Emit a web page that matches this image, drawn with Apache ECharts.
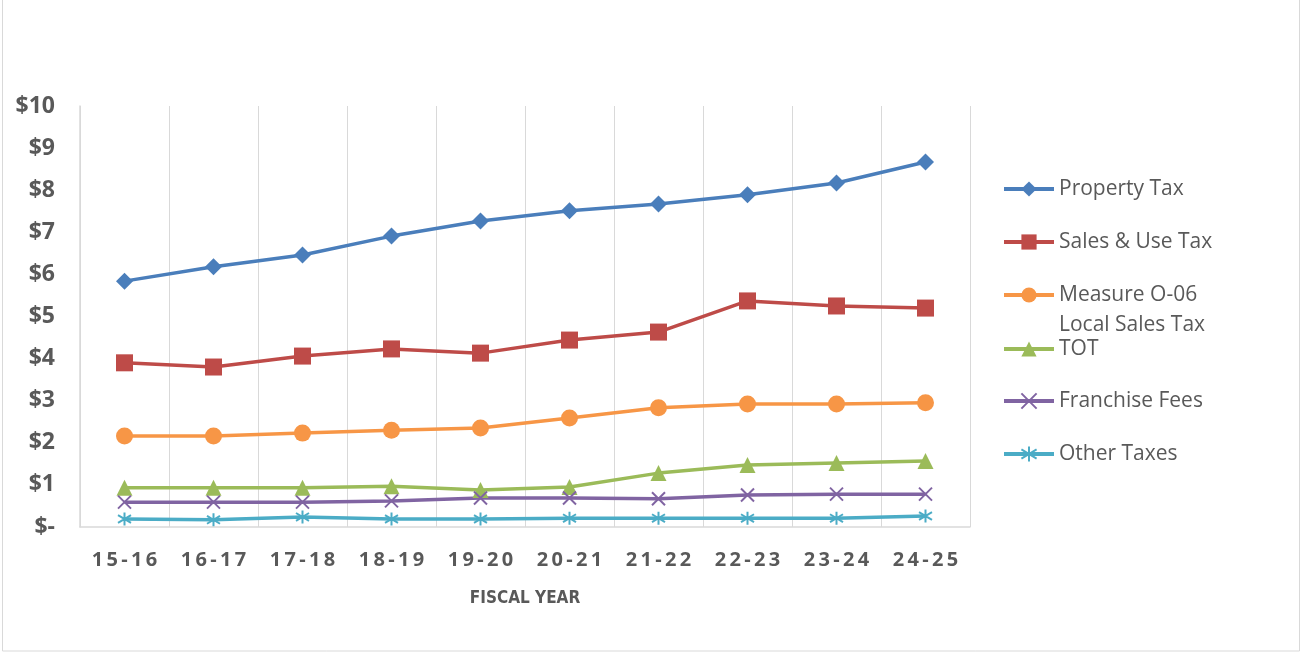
<!DOCTYPE html>
<html>
<head>
<meta charset="utf-8">
<script src="https://cdn.jsdelivr.net/npm/echarts@6/dist/echarts.min.js"></script>
<style>
  html, body { margin: 0; padding: 0; background: #fff; }
  #main { width: 1304px; height: 655px; }
</style>
</head>
<body>
<div id="main"></div>
<script>
var years = ['15-16', '16-17', '17-18', '18-19', '19-20', '20-21', '21-22', '22-23', '23-24', '24-25'];

var propertyTax = [5.84, 6.18, 6.46, 6.91, 7.27, 7.51, 7.67, 7.89, 8.17, 8.67];
var salesUseTax = [3.90, 3.80, 4.06, 4.23, 4.13, 4.44, 4.63, 5.37, 5.25, 5.20];
var measureO06 = [2.16, 2.16, 2.23, 2.30, 2.35, 2.59, 2.83, 2.92, 2.92, 2.95];
var tot = [0.93, 0.93, 0.93, 0.97, 0.88, 0.95, 1.28, 1.47, 1.52, 1.57];
var franchiseFees = [0.59, 0.59, 0.59, 0.62, 0.69, 0.69, 0.67, 0.76, 0.78, 0.78];
var otherTaxes = [0.19, 0.17, 0.24, 0.19, 0.19, 0.21, 0.21, 0.21, 0.21, 0.26];

var seriesNames = ['Property Tax', 'Sales & Use Tax', 'Measure O-06 Local Sales Tax', 'TOT', 'Franchise Fees', 'Other Taxes'];
var seriesData = [propertyTax, salesUseTax, measureO06, tot, franchiseFees, otherTaxes];
var colors = ['#4A7EBB', '#BE4B48', '#F79646', '#9BBB59', '#8064A2', '#4BACC6'];

var crossPath = 'path://M0,0L10,10M10,0L0,10';
var starPath = 'path://M5,0L5,10M0,2L10,8M10,2L0,8';
var symbols = ['diamond', 'rect', 'circle', 'triangle', crossPath, starPath];
var sizes = [17, 17, 17, 16, 13, 13];

var series = [];
var legends = [];
var legendTops = [189, 242, 295, 349, 401, 454];

for (var i = 0; i < seriesNames.length; i++) {
    var stroked = i >= 4;
    var measure = i === 2;
    series.push({
        name: seriesNames[i],
        type: 'line',
        data: seriesData[i],
        symbol: symbols[i],
        symbolSize: sizes[i],
        showAllSymbol: true,
        lineStyle: { width: 3.5, color: colors[i] },
        itemStyle: stroked
            ? { color: 'rgba(0,0,0,0)', borderColor: colors[i], borderWidth: 2 }
            : { color: colors[i], borderWidth: 0 },
        emphasis: { disabled: true }
    });

    // the multi-line legend text is centred on its symbol, so a blank first line
    // keeps "Measure O-06" level with the marker
    legends.push({
        data: [seriesNames[i]],
        left: 997,
        top: legendTops[i] - (measure ? 50 : 20),
        padding: 5,
        itemWidth: 50,
        itemHeight: 19,
        selectedMode: false,
        lineStyle: { width: 4 },
        formatter: measure ? '\nMeasure O-06\nLocal Sales Tax' : '{name}',
        textStyle: {
            color: '#595959',
            fontFamily: 'Open Sans',
            fontSize: 21,
            lineHeight: 30
        }
    });
}

var chart = echarts.init(document.getElementById('main'));

chart.setOption({
    animation: false,
    backgroundColor: '#fff',
    grid: { left: 80, right: 334, top: 106, bottom: 128 },
    legend: legends,
    graphic: [{
        type: 'rect',
        shape: { x: 2.5, y: -2, width: 1297, height: 653 },
        style: { fill: 'none', stroke: '#d9d9d9', lineWidth: 1 },
        silent: true
    }],
    xAxis: {
        type: 'category',
        data: years,
        boundaryGap: true,
        name: 'FISCAL YEAR',
        nameLocation: 'middle',
        nameGap: 63,
        nameTextStyle: {
            color: '#595959',
            fontFamily: 'DejaVu Sans Condensed',
            fontWeight: 'bold',
            fontSize: 17
        },
        axisLine: { lineStyle: { color: '#d9d9d9', width: 1.5 } },
        axisTick: { show: false },
        axisLabel: {
            margin: 23,
            color: '#595959',
            fontFamily: 'Open Sans',
            fontWeight: 'bold',
            fontSize: 20,
            formatter: function (v) { return v.split('').join('\u2009'); }
        },
        splitLine: { show: true, lineStyle: { color: '#d9d9d9', width: 1 } }
    },
    yAxis: {
        type: 'value',
        min: 0,
        max: 10,
        interval: 1,
        axisLine: { show: true, lineStyle: { color: '#d9d9d9', width: 1.5 } },
        axisTick: { show: false },
        splitLine: { show: false },
        axisLabel: {
            margin: 25,
            color: '#595959',
            fontFamily: 'Open Sans',
            fontWeight: 'bold',
            fontSize: 23,
            formatter: function (v) { return v === 0 ? '$-' : '$' + v; }
        }
    },
    series: series
});
</script>
</body>
</html>
